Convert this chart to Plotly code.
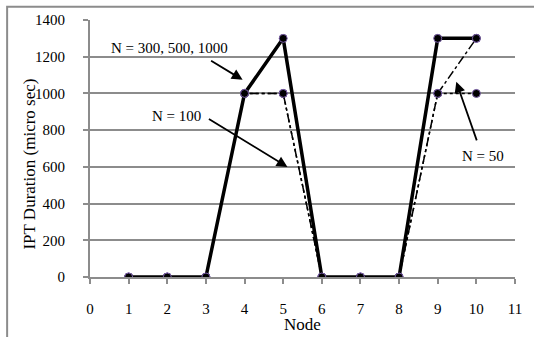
import plotly.graph_objects as go

nodes = [1, 2, 3, 4, 5, 6, 7, 8, 9, 10]
n_large = [0, 0, 0, 1000, 1300, 0, 0, 0, 1300, 1300]   # N = 300, 500, 1000
n_100 = [0, 0, 0, 1000, 1000, 0, 0, 0, 1000, 1300]
n_50 = [0, 0, 0, 1000, 1000, 0, 0, 0, 1000, 1000]
x_ticks = list(range(0, 12))
y_ticks = list(range(0, 1401, 200))

FONT = "Liberation Serif, Times New Roman, serif"
marker = dict(symbol="circle", size=8, color="black", line=dict(color="#7a5fa8", width=1))

fig = go.Figure()
fig.add_trace(go.Scatter(x=nodes, y=n_50, mode="lines+markers",
                         line=dict(color="black", width=1.5, dash="dot"), marker=marker))
fig.add_trace(go.Scatter(x=nodes, y=n_100, mode="lines+markers",
                         line=dict(color="black", width=1.5, dash="dashdot"), marker=marker))
fig.add_trace(go.Scatter(x=nodes, y=n_large, mode="lines+markers",
                         line=dict(color="black", width=3.5), marker=marker))

ann = []
# arrows
for hx, hy, ax, ay in [(3.95, 1074, -33, -20), (5.11, 599, -80, -49), (9.48, 1063, 21, 60)]:
    ann.append(dict(x=hx, y=hy, xref="x", yref="y", text="", showarrow=True,
                    ax=ax, ay=ay, arrowhead=2, arrowsize=1.2, arrowwidth=1.8, arrowcolor="black"))
for tx, ty, t in [(2.07, 1247, "N = 300, 500, 1000"), (2.25, 875, "N = 100"), (10.17, 658, "N = 50")]:
    ann.append(dict(x=tx, y=ty, xref="x", yref="y", text=t, showarrow=False,
                    font=dict(family=FONT, size=15, color="black")))
ann.append(dict(x=-0.142, y=0.44, xref="paper", yref="paper", text="IPT Duration (micro sec)",
                textangle=-90, showarrow=False, xanchor="center", yanchor="middle",
                font=dict(family=FONT, size=17, color="black")))
ann.append(dict(x=0.5, y=-0.185, xref="paper", yref="paper", text="Node", showarrow=False,
                xanchor="center", yanchor="middle",
                font=dict(family=FONT, size=17, color="black")))

fig.update_layout(
    width=534, height=337,
    margin=dict(l=90, r=18, t=17.5, b=60),
    paper_bgcolor="white", plot_bgcolor="white",
    showlegend=False,
    annotations=ann,
    font=dict(family=FONT, size=15, color="black"),
    shapes=[dict(type="rect", xref="paper", yref="paper", x0=-0.195, x1=1.1, y0=-0.3, y1=1.052,
                 line=dict(color="#8c8c8c", width=2), layer="below")],
)
fig.update_xaxes(range=[0, 11], tickmode="array", tickvals=x_ticks, showgrid=False,
                 showline=True, linecolor="#8c8c8c", linewidth=2, ticks="outside", ticklen=5,
                 tickcolor="#8c8c8c", tickwidth=2, ticklabelstandoff=12, zeroline=False,
                 tickfont=dict(family=FONT, size=15, color="black"))
fig.update_yaxes(range=[0, 1400], tickmode="array", tickvals=y_ticks, showgrid=True,
                 gridcolor="#8c8c8c", gridwidth=2, showline=True, linecolor="#8c8c8c", linewidth=2,
                 ticks="outside", ticklen=5, tickcolor="#8c8c8c", tickwidth=2,
                 ticklabelstandoff=15, zeroline=False,
                 tickfont=dict(family=FONT, size=15, color="black"))

fig.write_html("out.html")
